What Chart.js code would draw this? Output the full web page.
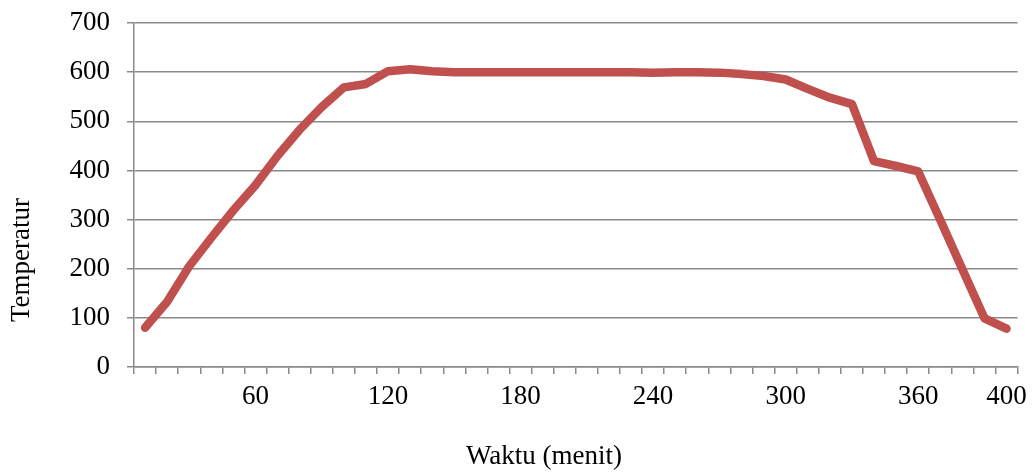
<!DOCTYPE html>
<html>
<head>
<meta charset="utf-8">
<script src="https://cdn.jsdelivr.net/npm/chart.js@4"></script>
<style>
    html, body { margin: 0; padding: 0; background: #fff; }
    #wrap { width: 1034px; height: 472px; }
</style>
</head>
<body>
<div id="wrap"><canvas id="chartSuhu" width="1034" height="472"></canvas></div>
<script>
// waktu (menit) tiap 10 menit
const waktu = [10, 20, 30, 40, 50, 60, 70, 80, 90, 100,
    110, 120, 130, 140, 150, 160, 170, 180, 190, 200,
    210, 220, 230, 240, 250, 260, 270, 280, 290, 300,
    310, 320, 330, 340, 350, 360, 370, 380, 390, 400];

const suhu = [80, 133, 205, 263, 319, 370, 430, 483, 529, 569,
    576, 602, 606, 602, 600, 600, 600, 600, 600, 600,
    600, 600, 600, 599, 600, 600, 599, 596, 592, 585,
    566, 548, 535, 419, 409, 398, 299, 199, 99, 78];

const labelWaktu = ["60", "120", "180", "240", "300", "360", "400"];

const fontSerif = "'Liberation Serif', 'Times New Roman', serif";
const abu = "#8a8a8a";

// judul sumbu ditulis sendiri, posisinya di Excel tidak tepat di tengah area plot
const judulSumbu = {
    id: "judulSumbu",
    afterDraw(chart) {
        const ctx = chart.ctx;
        ctx.save();
        ctx.font = "27px " + fontSerif;
        ctx.fillStyle = "#000";
        ctx.textAlign = "center";
        ctx.textBaseline = "middle";
        ctx.fillText("Waktu (menit)", 544, 457);
        ctx.translate(22, 260);
        ctx.rotate(-Math.PI / 2);
        ctx.fillText("Temperatur", 0, 0);
        ctx.restore();
    }
};

new Chart(document.getElementById("chartSuhu"), {
    type: "line",
    data: {
        labels: waktu.map(String),
        datasets: [{
            data: suhu,
            borderColor: "#C0504D",
            borderWidth: 8.5,
            borderCapStyle: "round",
            borderJoinStyle: "round",
            pointRadius: 0,
            tension: 0,
            fill: false
        }]
    },
    options: {
        responsive: false,
        animation: false,
        layout: {
            padding: { top: 23, right: 16, bottom: 0, left: 0 }
        },
        scales: {
            x: {
                offset: true,
                afterFit: (scale) => { scale.height = 105; },
                grid: {
                    offset: true,
                    drawOnChartArea: false,
                    drawTicks: true,
                    tickLength: 7,
                    color: abu,
                    lineWidth: 1.5
                },
                border: { color: abu, width: 1.5 },
                ticks: {
                    autoSkip: false,
                    maxRotation: 0,
                    minRotation: 0,
                    padding: 7,
                    color: "#000",
                    font: { family: fontSerif, size: 27 },
                    callback: function (value) {
                        const lab = this.getLabelForValue(value);
                        return labelWaktu.includes(lab) ? lab : "";
                    }
                }
            },
            y: {
                min: 0,
                max: 700,
                afterFit: (scale) => {
                    scale.width = 134;
                    scale.paddingTop = 0;
                    scale.paddingBottom = 0;
                },
                grid: {
                    drawTicks: true,
                    tickLength: 7,
                    color: abu,
                    lineWidth: 1.5
                },
                border: { color: abu, width: 1.5 },
                ticks: {
                    stepSize: 100,
                    padding: 17,
                    color: "#000",
                    font: { family: fontSerif, size: 27 }
                }
            }
        },
        plugins: {
            legend: { display: false },
            tooltip: { enabled: false }
        }
    },
    plugins: [judulSumbu]
});
</script>
</body>
</html>
